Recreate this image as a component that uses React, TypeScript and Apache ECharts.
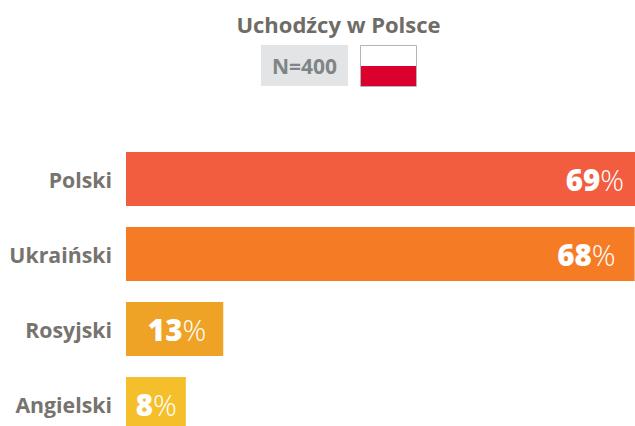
import React, { useEffect, useRef } from "react";
import * as echarts from "echarts";

const categories = ["Polski", "Ukraiński", "Rosyjski", "Angielski"];
const values = [69, 68, 13, 8];
const barColors = ["#f25c3f", "#f57c25", "#eea226", "#f4bf2a"];
const labelInsets = [18, 19, 17, 9];
const titleText = "Uchodźcy w Polsce";
const sampleText = "N=400";
const font = '"Open Sans", sans-serif';

export default function App() {
  const ref = useRef<HTMLDivElement>(null);
  useEffect(() => {
    document.body.style.margin = "0";
    const chart = echarts.init(ref.current!, undefined, { renderer: "svg" });
    chart.setOption({
      animation: false,
      backgroundColor: "#ffffff",
      grid: { left: 126, top: 141.5, width: 748, height: 300, containLabel: false, outerBoundsMode: "none" },
      xAxis: { type: "value", min: 0, max: 100, show: false },
      yAxis: {
        type: "category",
        inverse: true,
        data: categories,
        axisLine: { show: false },
        axisTick: { show: false },
        axisLabel: { margin: 14, fontFamily: font, fontWeight: 700, fontSize: 21.3, color: "#77736e" },
      },
      series: [
        {
          type: "bar",
          barWidth: 54,
          clip: false,
          data: values.map((v, i) => ({
            value: v,
            itemStyle: { color: barColors[i] },
            label: {
              show: true,
              position: "insideRight",
              distance: labelInsets[i],
              formatter: `{n|${v}}{p|%}`,
              rich: {
                n: { fontFamily: font, fontWeight: 800, fontSize: 29.5, color: "#ffffff" },
                p: { fontFamily: font, fontWeight: 300, fontSize: 29.5, color: "#ffffff" },
              },
            },
          })),
        },
      ],
      graphic: [
        {
          type: "text",
          x: 338.5,
          y: 24,
          style: {
            text: titleText,
            fontFamily: font,
            fontWeight: 700,
            fontSize: 22,
            fill: "#6f6b66",
            textAlign: "center",
            textVerticalAlign: "middle",
          },
        },
        { type: "rect", shape: { x: 261, y: 45, width: 87, height: 41 }, style: { fill: "#e2e4e6" } },
        {
          type: "text",
          x: 304.5,
          y: 66,
          style: {
            text: sampleText,
            fontFamily: font,
            fontWeight: 700,
            fontSize: 21,
            fill: "#7f8486",
            textAlign: "center",
            textVerticalAlign: "middle",
          },
        },
        { type: "rect", shape: { x: 360.5, y: 45.5, width: 56, height: 41 }, style: { fill: "#ffffff", stroke: "#b3b3bb", lineWidth: 1 } },
        { type: "rect", shape: { x: 361, y: 66, width: 55, height: 20 }, style: { fill: "#dc002e" } },
      ],
    });
    return () => chart.dispose();
  }, []);
  return <div ref={ref} style={{ width: 635, height: 426, overflow: "hidden" }} />;
}
